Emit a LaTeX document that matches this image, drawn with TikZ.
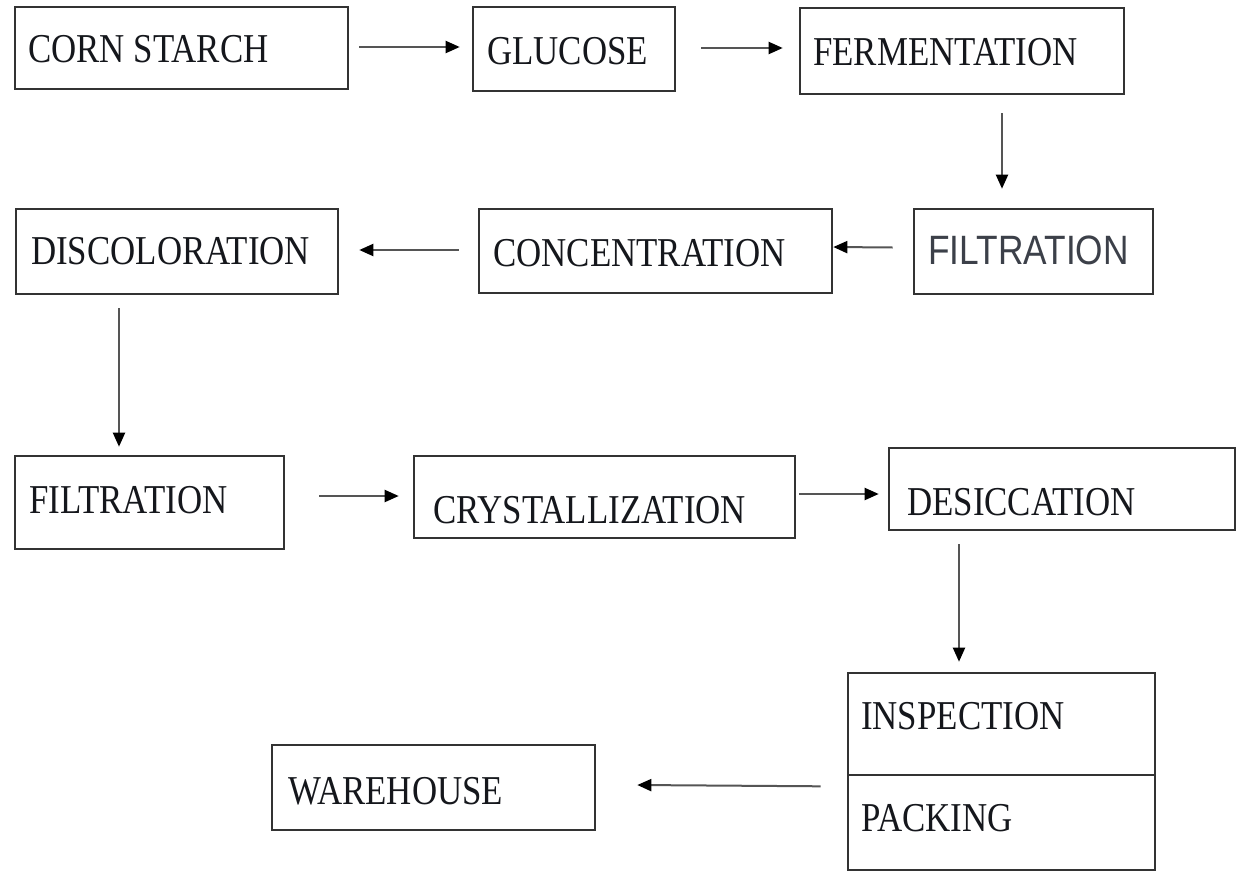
\documentclass[tikz,border=0pt]{standalone}
\usepackage{fontspec}
\setmainfont{Liberation Serif}[FakeStretch=0.85]
\newfontfamily\sansf{Liberation Sans}[FakeStretch=0.86]
\usetikzlibrary{arrows.meta}
\definecolor{boxc}{HTML}{333333}
\definecolor{linec}{HTML}{555555}
\definecolor{txtc}{HTML}{15171C}
\definecolor{sanstxt}{HTML}{3C4049}
\tikzset{
  box/.style={draw=boxc, line width=2.6pt, inner sep=0pt},
  lbl/.style={anchor=base west, inner sep=0pt, text=txtc, font=\fontsize{41}{45}\selectfont},
  arr/.style={draw=linec, line width=2pt, -{Triangle[length=14pt,width=12pt,fill=black,color=black]}}
}
\newcommand{\mybox}[5]{%
  \node[box, minimum width={#4-#2}, minimum height={#5-#3}] (#1) at ({(#2+#4)/2},{(#3+#5)/2}) {};}
\begin{document}
\begin{tikzpicture}[x=1pt,y=-1pt]
\useasboundingbox[fill=white] (0,0) rectangle (1237,873);
% boxes
\mybox{cs}{15}{7}{348}{89}
\mybox{gl}{473}{7}{675}{91}
\mybox{fe}{800}{8}{1124}{94}
\mybox{fia}{914}{209}{1153}{294}
\mybox{co}{479}{209}{832}{293}
\mybox{di}{16}{209}{338}{294}
\mybox{fib}{15}{456}{284}{549}
\mybox{cr}{414}{456}{795}{538}
\mybox{de}{889}{448}{1235}{530}
\mybox{ip}{848}{673}{1155}{775}
\mybox{pk}{848}{775}{1155}{870}
\mybox{wh}{272}{745}{595}{830}
% labels
\node[lbl] (cs-t) at (28,62) {CORN STARCH};
\node[lbl] (gl-t) at (487,64) {GLUCOSE};
\node[lbl] (fe-t) at (813,65) {FERMENTATION};
\node[lbl, text=sanstxt, font=\sansf\fontsize{41}{45}\selectfont] (fia-t) at (928,264) {FILTRATION};
\node[lbl] (co-t) at (493,266) {CONCENTRATION};
\node[lbl] (di-t) at (31,264) {DISCOLORATION};
\node[lbl] (fib-t) at (29,513) {FILTRATION};
\node[lbl] (cr-t) at (433,523) {CRYSTALLIZATION};
\node[lbl] (de-t) at (907,515) {DESICCATION};
\node[lbl] (ip-t) at (861,729) {INSPECTION};
\node[lbl] (pk-t) at (861,831) {PACKING};
\node[lbl] (wh-t) at (288,804) {WAREHOUSE};
% connectors (yshift: positive = up on the page)
\draw[arr] ([xshift=10pt,yshift=1pt]cs.east) -- ([xshift=-12pt,yshift=2pt]gl.west);
\draw[arr] ([xshift=25pt,yshift=1pt]gl.east) -- ([xshift=-16pt,yshift=1pt]gl.east -| fe.west);
\draw[arr] ([xshift=40pt,yshift=-18pt]fe.south) -- ([xshift=-31.5pt,yshift=19pt]fia.north);
\draw[arr] ([xshift=-20pt,yshift=4pt]fia.west) -- ([yshift=4pt]co.east);
\draw[arr] ([xshift=-19pt,yshift=1pt]co.west) -- ([xshift=20pt,yshift=1.5pt]di.east);
\draw[arr] ([xshift=-58pt,yshift=-13pt]di.south) -- ([xshift=-30.5pt,yshift=8pt]fib.north);
\draw[arr] ([xshift=34pt,yshift=6.5pt]fib.east) -- ([xshift=-14pt,yshift=1pt]cr.west);
\draw[arr] ([xshift=3pt,yshift=3pt]cr.east) -- ([xshift=-9pt,yshift=-5pt]de.west);
\draw[arr] ([xshift=-103pt,yshift=-13pt]de.south) -- ([xshift=-42.5pt,yshift=10pt]ip.north);
\draw[arr] ([xshift=-26pt,yshift=-10pt]ip.south west) -- ([xshift=41pt,yshift=2.5pt]wh.east);
\end{tikzpicture}
\end{document}
